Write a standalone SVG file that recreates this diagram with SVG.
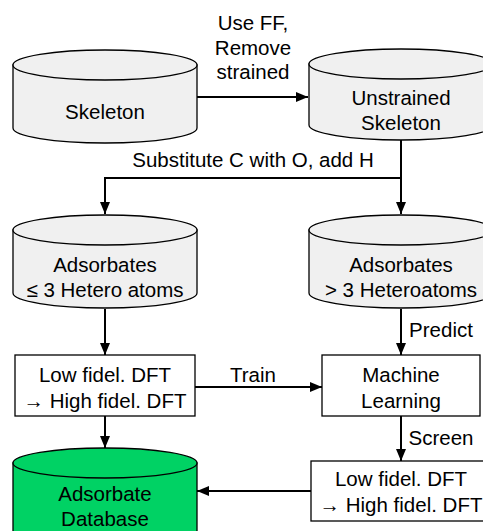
<svg xmlns="http://www.w3.org/2000/svg" width="483" height="531" viewBox="0 0 483 531">
  <style>
    text { font-family: "Liberation Sans", Arial, sans-serif; font-size: 20.5px; fill: #000; text-anchor: middle; }
    .cyl { fill: #f0f0f0; stroke: #000; stroke-width: 1.3; }
    .db { fill: #00d264; stroke: #000; stroke-width: 1.3; }
    .box { fill: #fff; stroke: #000; stroke-width: 1.3; }
    .edge { fill: none; stroke: #000; stroke-width: 2; }
  </style>
  <defs>
    <marker id="arrow" viewBox="0 0 12 10" refX="12" refY="5" markerWidth="12" markerHeight="10" markerUnits="userSpaceOnUse" orient="auto">
      <path d="M0,0 L12,5 L0,10 Z" fill="#000"/>
    </marker>
  </defs>

  <rect width="483" height="531" fill="#fff"/>

  <!-- connectors -->
  <g id="connectors">
    <path class="edge" d="M197,97 L308,97" marker-end="url(#arrow)"/>
    <text x="253" y="30">Use FF,</text>
    <text x="253" y="55">Remove</text>
    <text x="253" y="79">strained</text>

    <path class="edge" d="M401,140 L401,214" marker-end="url(#arrow)"/>
    <path class="edge" d="M401,178 L105,178 L105,214" marker-end="url(#arrow)"/>
    <text x="253" y="167">Substitute C with O, add H</text>

    <path class="edge" d="M105,309 L105,355" marker-end="url(#arrow)"/>
    <path class="edge" d="M401,309 L401,355" marker-end="url(#arrow)"/>
    <text x="441" y="337">Predict</text>

    <path class="edge" d="M195,387 L322,387" marker-end="url(#arrow)"/>
    <text x="253" y="382">Train</text>

    <path class="edge" d="M105,416 L105,448" marker-end="url(#arrow)"/>
    <path class="edge" d="M401,416 L401,461" marker-end="url(#arrow)"/>
    <text x="441" y="445">Screen</text>

    <path class="edge" d="M311,491 L197,491" marker-end="url(#arrow)"/>
  </g>

  <!-- Skeleton -->
  <g id="skeleton">
    <path class="cyl" d="M13,65 L13,128 A92,15 0 0 0 197,128 L197,65 Z"/>
    <ellipse class="cyl" cx="105" cy="65" rx="92" ry="15"/>
    <text x="105" y="119">Skeleton</text>
  </g>

  <!-- Unstrained Skeleton -->
  <g id="unstrained-skeleton">
    <path class="cyl" d="M309,64 L309,125 A92,15 0 0 0 493,125 L493,64 Z"/>
    <ellipse class="cyl" cx="401" cy="64" rx="92" ry="15"/>
    <text x="401" y="105">Unstrained</text>
    <text x="401" y="130">Skeleton</text>
  </g>

  <!-- Adsorbates with few heteroatoms -->
  <g id="adsorbates-few">
    <path class="cyl" d="M13,230 L13,293 A92,15 0 0 0 197,293 L197,230 Z"/>
    <ellipse class="cyl" cx="105" cy="230" rx="92" ry="15"/>
    <text x="105" y="272">Adsorbates</text>
    <text x="105" y="297">≤ 3 Hetero atoms</text>
  </g>

  <!-- Adsorbates with many heteroatoms -->
  <g id="adsorbates-many">
    <path class="cyl" d="M309,230 L309,293 A92,15 0 0 0 493,293 L493,230 Z"/>
    <ellipse class="cyl" cx="401" cy="230" rx="92" ry="15"/>
    <text x="401" y="272">Adsorbates</text>
    <text x="401" y="297">&gt; 3 Heteroatoms</text>
  </g>

  <!-- DFT (training set) -->
  <g id="dft-train">
    <rect class="box" x="15" y="355" width="180" height="61"/>
    <text x="105" y="382">Low fidel. DFT</text>
    <text x="105" y="408">→ High fidel. DFT</text>
  </g>

  <!-- Machine Learning -->
  <g id="machine-learning">
    <rect class="box" x="322" y="355" width="158" height="61"/>
    <text x="401" y="382">Machine</text>
    <text x="401" y="408">Learning</text>
  </g>

  <!-- DFT (screened candidates) -->
  <g id="dft-screen">
    <rect class="box" x="311" y="461" width="180" height="60"/>
    <text x="401" y="486">Low fidel. DFT</text>
    <text x="401" y="512">→ High fidel. DFT</text>
  </g>

  <!-- Adsorbate Database -->
  <g id="adsorbate-database">
    <path class="db" d="M13,463 L13,540 A92,15 0 0 0 197,540 L197,463 Z"/>
    <ellipse class="db" cx="105" cy="463" rx="92" ry="15"/>
    <text x="105" y="501">Adsorbate</text>
    <text x="105" y="526">Database</text>
  </g>
</svg>
